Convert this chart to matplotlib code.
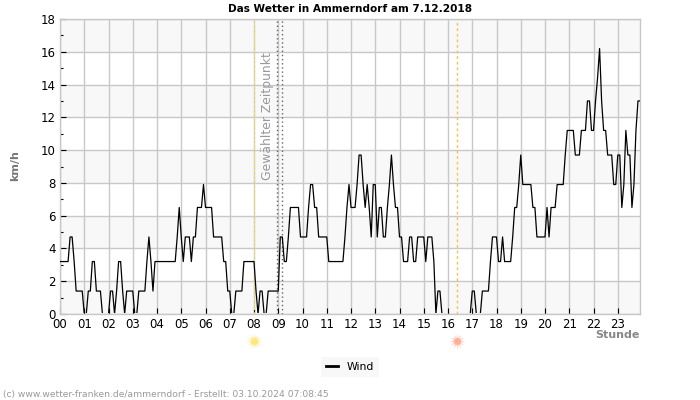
import numpy as np
import matplotlib
matplotlib.use('Agg')
import matplotlib.pyplot as plt
from matplotlib.transforms import Bbox, TransformedBbox

# wind in km/h, one row per hour, 5 minute samples
h00 = [3.2,3.2,3.2,3.2,3.2,4.7,4.7,3.2,1.4,1.4,1.4,1.4]
h01 = [0,0,1.4,1.4,3.2,3.2,1.4,1.4,1.4,0,0,0]
h02 = [0,1.4,1.4,0,1.4,3.2,3.2,1.4,0,1.4,1.4,1.4]
h03 = [1.4,0,0,1.4,1.4,1.4,1.4,3.2,4.7,3.2,1.4,3.2]
h04 = [3.2,3.2,3.2,3.2,3.2,3.2,3.2,3.2,3.2,3.2,4.7,6.5]
h05 = [4.7,3.2,4.7,4.7,4.7,3.2,4.7,4.7,6.5,6.5,6.5,7.9]
h06 = [6.5,6.5,6.5,6.5,4.7,4.7,4.7,4.7,4.7,3.2,3.2,1.4]
h07 = [1.4,0,0,1.4,1.4,1.4,1.4,3.2,3.2,3.2,3.2,3.2]
h08 = [3.2,1.4,0,1.4,1.4,0,0,1.4,1.4,1.4,1.4,1.4]
h09 = [1.4,4.7,4.7,3.2,3.2,4.7,6.5,6.5,6.5,6.5,6.5,4.7]
h10 = [4.7,4.7,4.7,6.5,7.9,7.9,6.5,6.5,4.7,4.7,4.7,4.7]
h11 = [4.7,3.2,3.2,3.2,3.2,3.2,3.2,3.2,3.2,4.7,6.5,7.9]
h12 = [6.5,6.5,6.5,7.9,9.7,9.7,7.9,6.5,7.9,6.5,4.7,7.9]
h13 = [7.9,4.7,6.5,6.5,4.7,4.7,6.5,7.9,9.7,7.9,6.5,6.5]
h14 = [4.7,4.7,3.2,3.2,3.2,4.7,4.7,3.2,3.2,4.7,4.7,4.7]
h15 = [4.7,3.2,4.7,4.7,4.7,3.2,0,1.4,1.4,0,0,0]
h16 = [0,0,0,0,0,0,0,0,0,0,0,0]
h17 = [1.4,1.4,0,0,0,1.4,1.4,1.4,1.4,3.2,4.7,4.7]
h18 = [4.7,3.2,3.2,4.7,3.2,3.2,3.2,3.2,4.7,6.5,6.5,7.9]
h19 = [9.7,7.9,7.9,7.9,7.9,7.9,6.5,6.5,4.7,4.7,4.7,4.7]
h20 = [4.7,6.5,4.7,6.5,6.5,6.5,7.9,7.9,7.9,7.9,9.7,11.2]
h21 = [11.2,11.2,11.2,9.7,9.7,9.7,11.2,11.2,11.2,13,13,11.2]
h22 = [11.2,13,14.4,16.2,13,11.2,11.2,9.7,9.7,9.7,7.9,7.9]
h23 = [9.7,9.7,6.5,7.9,11.2,9.7,9.7,6.5,7.9,11.2,13,13]

wind = h00+h01+h02+h03+h04+h05+h06+h07+h08+h09+h10+h11+h12+h13+h14+h15+h16+h17+h18+h19+h20+h21+h22+h23
hour_labels = ['%02d' % h for h in range(24)]
sunrise = 8.0
sunset = 16.36
selected = [8.94, 9.17]

t = np.arange(len(wind)) / 12.0

fig = plt.figure(figsize=(7, 4), dpi=100)
ax = fig.add_axes([60/700, 1-314/400, 580/700, 295/400])

# alternating bands
for y0 in range(0, 18, 4):
    ax.axhspan(y0, y0+2, color='#f8f8f8', lw=0, zorder=0)
ax.set_xlim(0, t[-1])
ax.set_ylim(0, 18)
ax.set_xticks(range(24))
ax.set_xticklabels(hour_labels)
ax.set_yticks(range(0, 19, 2))
ax.set_yticks(range(1, 18, 2), minor=True)
ax.tick_params(axis='both', which='major', direction='in', length=4, width=0.8, pad=3, labelsize=8.5)
ax.tick_params(axis='y', which='minor', direction='in', length=2, width=0.8)
ax.grid(True, which='major', color='#c8c8c8', lw=1)
ax.set_axisbelow(True)
for s in ax.spines.values():
    s.set_color('#c8c8c8')
    s.set_linewidth(1)

ax.axvline(sunrise, color='#f5e642', lw=0.8, ls=(0, (2, 2)), zorder=1.5)
ax.axvline(sunset, color='#ffc04d', lw=1, ls=(0, (2, 2)), zorder=1.5)
for v in selected:
    ax.axvline(v, color='#666666', lw=1, ls=(0, (1, 2)), zorder=1.5)

line, = ax.plot(t, wind, color='black', lw=0.9, label='Wind', zorder=3)
# the zero level does not show in the reference, the line ends just above the axis
line.set_clip_box(TransformedBbox(Bbox([[0, 0.005], [1, 1]]), ax.transAxes))

ax.text(8.57, 12.1, 'Gewählter Zeitpunkt', rotation=90, color='#999999', fontsize=8.9,
        ha='center', va='center')

# sun symbols below the axis
trans = ax.get_xaxis_transform()
ax.plot([sunrise], [-0.092], marker=(12, 1, 0), ms=11, color='#fff0b0', mew=0, clip_on=False, transform=trans)
ax.plot([sunrise], [-0.092], marker='o', ms=5, color='#ffe680', mew=0, clip_on=False, transform=trans)
ax.plot([sunset], [-0.092], marker=(12, 1, 0), ms=11, color='#ffd8c8', mew=0, clip_on=False, transform=trans)
ax.plot([sunset], [-0.092], marker='o', ms=5, color='#ffb09a', mew=0, clip_on=False, transform=trans)

fig.text(350/700, 1-9/400, 'Das Wetter in Ammerndorf am 7.12.2018', fontsize=7.6, fontweight='bold',
         ha='center', va='center')
fig.text(15/700, 1-166/400, 'km/h', fontsize=8, fontweight='bold', color='#777777', rotation=90,
         ha='center', va='center')
fig.text(640/700, 1-335/400, 'Stunde', fontsize=8, fontweight='bold', color='#888888',
         ha='right', va='center')
fig.text(3/700, 1-394/400, '(c) www.wetter-franken.de/ammerndorf - Erstellt: 03.10.2024 07:08:45',
         fontsize=6.6, color='#999999', ha='left', va='center')

leg = fig.legend(loc='center', bbox_to_anchor=(350/700, 1-367/400), fontsize=7.8, frameon=True,
                 handlelength=1.1, borderpad=0.5, handletextpad=0.8)
leg.get_frame().set_facecolor('#f8f8f8')
leg.get_frame().set_edgecolor('none')
leg.get_frame().set_alpha(1)
leg.get_frame().set_boxstyle('square', pad=0)
leg.get_lines()[0].set_linewidth(2)

fig.savefig('out.png', dpi=100)
